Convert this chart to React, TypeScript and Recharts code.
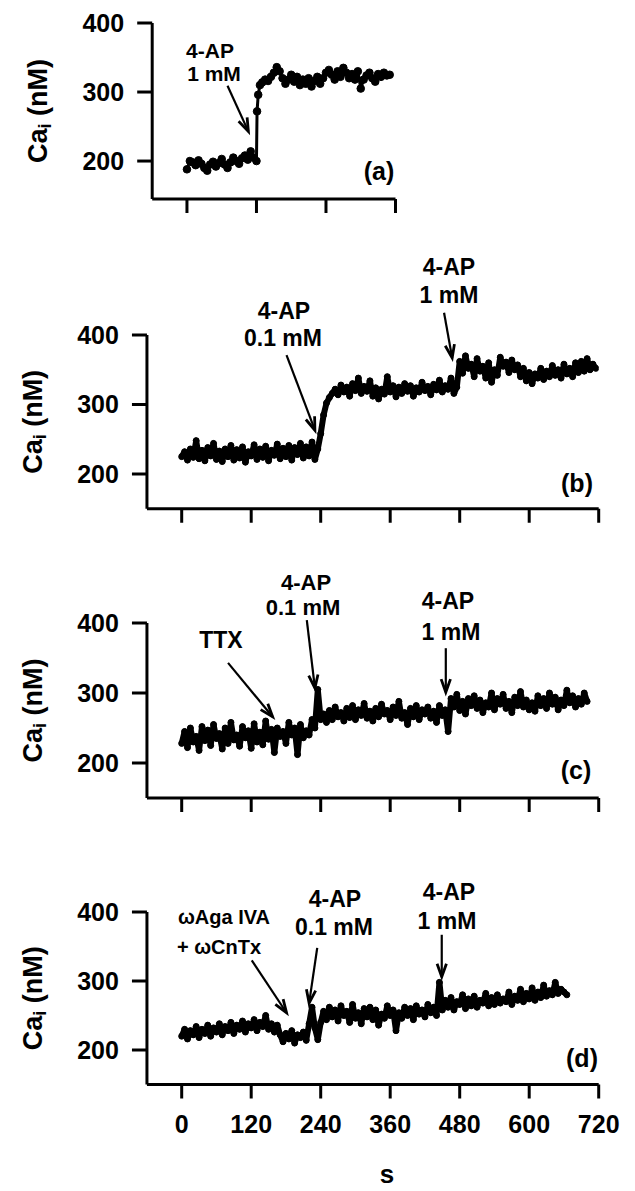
import React from 'react';
import { LineChart, Line, XAxis, YAxis, ReferenceLine } from 'recharts';

const FONT = '"Liberation Sans", Arial, Helvetica, sans-serif';

// (a) times in s and Ca_i in nM
const timeA = [
  0, 5, 10, 15, 20, 25, 30, 35, 40, 45, 50, 55, 60, 65, 70, 75, 80, 85, 90, 95, 100, 105, 110, 115, 120,
  121, 123, 126,
  130, 135, 140, 145, 150, 155, 160, 165, 170, 175, 180, 185, 190, 195, 200, 205, 210, 215, 220, 225,
  230, 235, 240, 245, 250, 255, 260, 265, 270, 275, 280, 285, 290, 295, 300, 305, 310, 315, 320, 325,
  330, 335, 340, 345, 350,
];
const caA = [
  188, 200, 198, 194, 201, 196, 190, 186, 195, 199, 192, 197, 203, 195, 190, 198, 205, 200, 196, 204, 208, 202, 214, 205, 200,
  272, 296, 310,
  314, 318, 316, 322, 328, 336, 330, 320, 312, 318, 325, 315, 322, 310, 318, 312, 320, 308, 316, 322,
  312, 320, 328, 332, 325, 318, 330, 322, 335, 328, 320, 326, 318, 330, 305, 318, 324, 328, 320, 315,
  326, 322, 328, 324, 325,
];

// (b)-(d) sampled every 5 s from t = 0
const SAMPLE_STEP = 5;
const caB = [
  225, 232, 220, 236, 224, 248, 222, 234, 219, 238, 226, 244, 221, 233, 218, 236, 225, 241, 220, 235,
  223, 239, 217, 232, 226, 242, 221, 236, 224, 240, 219, 234, 227, 243, 222, 237, 225, 241, 220, 238,
  228, 244, 223, 239, 226, 246, 221, 236,
  258, 285, 302, 310, 316, 322, 314, 328, 318, 325, 312, 330, 320, 338, 316, 326, 319, 334, 312, 324,
  308, 322, 315, 340, 318, 327, 311, 325, 316, 330, 319, 327, 312, 324, 318, 332, 320, 326, 314, 329,
  321, 335, 318, 327, 322, 338, 316, 325,
  362, 345, 370, 352, 358, 340, 366, 348, 355, 338, 360, 332, 350, 342, 368, 355, 361, 346, 364, 350,
  357, 340, 352, 334, 346, 330, 344, 338, 352, 336, 348, 340, 356, 342, 350, 338, 358, 344, 352, 340,
  360, 346, 362, 348, 366, 350, 358, 352,
];
const caC = [
  228, 245, 222, 250, 230, 238, 218, 252, 232, 247, 225, 255, 235, 242, 220, 250, 228, 258, 233, 240,
  224, 252, 236, 246, 221, 256, 230, 244, 226, 260, 234, 248, 215, 250, 238, 245, 228, 258, 240, 250,
  212, 255, 236, 246, 240, 262,
  250, 305, 262, 270, 258, 275, 262, 280, 266, 272, 260, 278, 265, 282, 262, 276, 268, 285, 264, 274,
  260, 278, 266, 284, 270, 275, 262, 280, 268, 288, 264, 272, 255, 278, 266, 282, 262, 276, 270, 280,
  264, 274, 258, 282, 268, 276, 245,
  292, 280, 298, 275, 288, 270, 292, 282, 296, 278, 290, 272, 286, 280, 300, 276, 292, 284, 298, 278,
  288, 272, 294, 282, 302, 280, 290, 276, 286, 274, 296, 282, 292, 278, 300, 284, 294, 276, 290, 282,
  304, 286, 296, 280, 292, 284, 300, 288,
];
const caD = [
  220, 230, 216, 228, 222, 234, 218, 230, 224, 236, 220, 232, 226, 238, 222, 234, 228, 240, 224, 236,
  230, 242, 226, 238, 232, 244, 228, 240, 234, 250, 230, 238, 226, 236, 222,
  212, 224, 216, 228, 210, 222, 218, 226, 214,
  238, 262, 232, 215, 240, 256, 244, 262, 248, 258, 242, 264, 250, 256, 240, 266, 246, 254, 238, 260,
  248, 262, 244, 258, 236, 252, 246, 264, 250, 258, 228, 254, 246, 262, 250, 260, 244, 264, 252, 258,
  248, 266, 254, 262, 250,
  298, 258, 272, 262, 276, 258, 270, 266, 280, 260, 274, 264, 278, 262, 272, 268, 282, 264, 276, 266,
  280, 268, 274, 270, 284, 266, 278, 272, 288, 270, 282, 274, 290, 272, 284, 276, 294, 278, 286, 280,
  298, 282, 288, 284, 280,
];

const xTicksA = [0, 120, 240, 360];
const xTicks = [0, 120, 240, 360, 480, 600, 720];
const yTicks = [200, 300, 400];

// arrows in data units: [t, Ca] tail -> head
type Arrow = { from: [number, number]; to: [number, number] };
const arrowsA: Arrow[] = [{ from: [70, 309], to: [106, 243] }];
const arrowsB: Arrow[] = [
  { from: [181, 371], to: [230, 263] },
  { from: [453, 432], to: [467, 367] },
];
const arrowsC: Arrow[] = [
  { from: [80, 343], to: [157, 266] },
  { from: [216, 404], to: [230, 307] },
  { from: [456, 364], to: [456, 301] },
];
const arrowsD: Arrow[] = [
  { from: [121, 330], to: [181, 254] },
  { from: [234, 348], to: [220, 268] },
  { from: [449, 367], to: [449, 306] },
];

const dataA = timeA.map((t, i) => ({ t, ca: caA[i] }));
const fromSteps = (vals: number[]) => vals.map((ca, i) => ({ t: i * SAMPLE_STEP, ca }));

const ArrowShape = (props: any) => {
  const { x1, y1, x2, y2 } = props;
  const ang = Math.atan2(y2 - y1, x2 - x1);
  const len = 14;
  const spread = 0.34;
  const ax = x2 - len * Math.cos(ang - spread);
  const ay = y2 - len * Math.sin(ang - spread);
  const bx = x2 - len * Math.cos(ang + spread);
  const by = y2 - len * Math.sin(ang + spread);
  return (
    <g>
      <line x1={x1} y1={y1} x2={x2} y2={y2} stroke="#000" strokeWidth={2.2} />
      <polyline points={`${ax},${ay} ${x2},${y2} ${bx},${by}`} fill="none" stroke="#000" strokeWidth={2.8} />
    </g>
  );
};

const CaLabel = (props: any) => {
  const vb = props.viewBox || { x: 0, y: 0, width: 0, height: 0 };
  const cx = vb.x - 54;
  const cy = vb.y + vb.height / 2;
  return (
    <text
      x={cx}
      y={cy}
      transform={`rotate(-90 ${cx} ${cy})`}
      textAnchor="middle"
      dominantBaseline="central"
      fill="#000"
      fontFamily={FONT}
      fontWeight={700}
      fontSize={27}
    >
      Ca
      <tspan fontSize={18} dy={7}>i</tspan>
      <tspan dy={-7}> (nM)</tspan>
    </text>
  );
};

type PanelProps = {
  top: number;
  height: number;
  data: { t: number; ca: number }[];
  xDomain: [number, number];
  xTickList: number[];
  yDomain: [number, number];
  margin: { top: number; right: number; bottom: number; left: number };
  xAxisHeight: number;
  showXLabels: boolean;
  arrows: Arrow[];
  dotR: number;
  lineW: number;
};

const Panel = ({ top, height, data, xDomain, xTickList, yDomain, margin, xAxisHeight, showXLabels, arrows, dotR, lineW }: PanelProps) => (
  <div style={{ position: 'absolute', left: 0, top, width: 635, height }}>
    <LineChart width={635} height={height} data={data} margin={margin}>
      <XAxis
        dataKey="t"
        type="number"
        domain={xDomain}
        ticks={xTickList}
        interval={0}
        allowDataOverflow
        height={xAxisHeight}
        axisLine={{ stroke: '#000', strokeWidth: 3 }}
        tickLine={{ stroke: '#000', strokeWidth: 3 }}
        tickSize={14}
        tickMargin={17}
        tickFormatter={showXLabels ? undefined : () => ''}
        tick={{ fill: '#000', fontSize: 25, fontWeight: 700, fontFamily: FONT }}
      />
      <YAxis
        type="number"
        domain={yDomain}
        ticks={yTicks}
        interval={0}
        allowDataOverflow
        width={60}
        axisLine={{ stroke: '#000', strokeWidth: 3 }}
        tickLine={{ stroke: '#000', strokeWidth: 3 }}
        tickSize={15}
        tickMargin={13}
        tick={{ fill: '#000', fontSize: 25, fontWeight: 700, fontFamily: FONT }}
        label={CaLabel}
      />
      <Line
        type="linear"
        dataKey="ca"
        stroke="#000"
        strokeWidth={lineW}
        strokeLinejoin="round"
        dot={{ r: dotR, fill: '#000', stroke: '#000', strokeWidth: 1 }}
        isAnimationActive={false}
      />
      {arrows.map((a, i) => (
        <ReferenceLine
          key={i}
          ifOverflow="visible"
          segment={[{ x: a.from[0], y: a.from[1] }, { x: a.to[0], y: a.to[1] }]}
          shape={ArrowShape}
        />
      ))}
    </LineChart>
  </div>
);

const Note = ({ x, y, size = 23, children }: { x: number; y: number; size?: number; children: React.ReactNode }) => (
  <div
    style={{
      position: 'absolute',
      left: x,
      top: y,
      transform: 'translate(-50%, -50%)',
      whiteSpace: 'nowrap',
      fontFamily: FONT,
      fontWeight: 700,
      fontSize: size,
      lineHeight: 1,
      color: '#000',
    }}
  >
    {children}
  </div>
);

export default function App() {
  return (
    <div style={{ position: 'absolute', left: 0, top: 0, width: 635, height: 1191, background: '#fff', overflow: 'hidden' }}>
      <Panel
        top={0}
        height={240}
        data={dataA}
        xDomain={[-60, 360]}
        xTickList={xTicksA}
        yDomain={[145, 400]}
        margin={{ top: 23, right: 239.5, bottom: 11, left: 92.2 }}
        xAxisHeight={30}
        showXLabels={false}
        arrows={arrowsA}
        dotR={3.8}
        lineW={3}
      />
      <Panel
        top={280}
        height={260}
        data={fromSteps(caB)}
        xDomain={[-60, 720]}
        xTickList={xTicks}
        yDomain={[150, 400]}
        margin={{ top: 55, right: 36.3, bottom: 1.25, left: 86.95 }}
        xAxisHeight={30}
        showXLabels={false}
        arrows={arrowsB}
        dotR={3}
        lineW={6}
      />
      <Panel
        top={570}
        height={260}
        data={fromSteps(caC)}
        xDomain={[-60, 720]}
        xTickList={xTicks}
        yDomain={[150, 400]}
        margin={{ top: 53, right: 36.3, bottom: 2, left: 86.95 }}
        xAxisHeight={30}
        showXLabels={false}
        arrows={arrowsC}
        dotR={3}
        lineW={6}
      />
      <Panel
        top={860}
        height={331}
        data={fromSteps(caD)}
        xDomain={[-60, 720]}
        xTickList={xTicks}
        yDomain={[150, 400]}
        margin={{ top: 52, right: 36.3, bottom: 46.5, left: 86.95 }}
        xAxisHeight={60}
        showXLabels={true}
        arrows={arrowsD}
        dotR={3}
        lineW={6}
      />

      <Note x={210} y={50} size={21}>4-AP</Note>
      <Note x={214} y={73} size={21}>1 mM</Note>
      <Note x={379} y={171} size={25}>(a)</Note>

      <Note x={284} y={311}>4-AP</Note>
      <Note x={283} y={338}>0.1 mM</Note>
      <Note x={449} y={267}>4-AP</Note>
      <Note x={449} y={295}>1 mM</Note>
      <Note x={577} y={483} size={25}>(b)</Note>

      <Note x={221} y={640} size={23}>TTX</Note>
      <Note x={306} y={583} size={22}>4-AP</Note>
      <Note x={303} y={608} size={22}>0.1 mM</Note>
      <Note x={448} y={601}>4-AP</Note>
      <Note x={451} y={632}>1 mM</Note>
      <Note x={576} y={770} size={25}>(c)</Note>

      <Note x={224} y={917} size={20}>ωAga IVA</Note>
      <Note x={219} y={947} size={20}>+ ωCnTx</Note>
      <Note x={335} y={899}>4-AP</Note>
      <Note x={334} y={927}>0.1 mM</Note>
      <Note x={449} y={892}>4-AP</Note>
      <Note x={447} y={921}>1 mM</Note>
      <Note x={582} y={1058} size={25}>(d)</Note>

      <Note x={387} y={1174} size={26}>s</Note>
    </div>
  );
}
